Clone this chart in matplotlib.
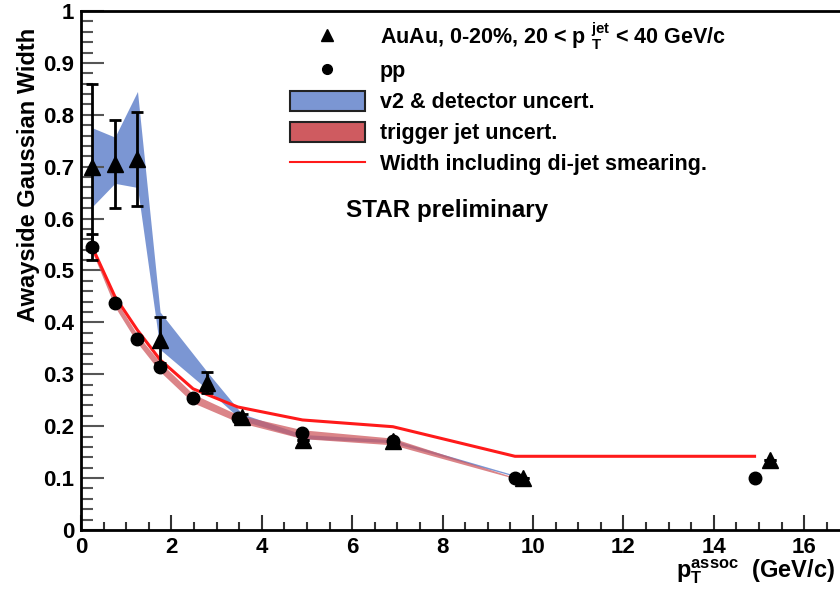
import numpy as np
import matplotlib.pyplot as plt
from matplotlib.lines import Line2D
from matplotlib.patches import Patch
from matplotlib.ticker import MultipleLocator

plt.rcParams['font.family'] = ['Liberation Sans', 'DejaVu Sans']
plt.rcParams['mathtext.fontset'] = 'custom'
plt.rcParams['mathtext.rm'] = 'Liberation Sans:bold'
plt.rcParams['mathtext.it'] = 'Liberation Sans:bold'
plt.rcParams['mathtext.bf'] = 'Liberation Sans:bold'

# ==================== data ====================
# AuAu, 0-20%, 20 < pT(jet) < 40 GeV/c
pt_auau = [0.25, 0.75, 1.25, 1.75, 2.78, 3.56, 4.91, 6.9, 9.78, 15.24]
w_auau = [0.700, 0.705, 0.715, 0.366, 0.284, 0.217, 0.173, 0.171, 0.100, 0.135]
err_auau = [0.160, 0.085, 0.090, 0.045, 0.020, 0.006, 0.0, 0.0, 0.0, 0.0]

# pp
pt_pp = [0.25, 0.75, 1.25, 1.75, 2.48, 3.47, 4.90, 6.90, 9.60, 14.90]
w_pp = [0.545, 0.437, 0.368, 0.315, 0.254, 0.215, 0.187, 0.172, 0.100, 0.100]
err_pp = [0.025, 0.0, 0.0, 0.0, 0.0, 0.0, 0.0, 0.0, 0.0, 0.0]

# v2 & detector uncertainty band (AuAu)
band_v2_x = [0.25, 0.75, 1.25, 1.75, 2.78, 3.56, 4.91, 6.90, 9.78]
band_v2_lo = [0.623, 0.668, 0.660, 0.348, 0.272, 0.211, 0.176, 0.168, 0.099]
band_v2_hi = [0.775, 0.757, 0.845, 0.420, 0.306, 0.224, 0.184, 0.174, 0.101]

# trigger jet uncertainty band (pp)
band_jet_x = [0.25, 0.75, 1.25, 1.75, 2.48, 3.47, 4.90, 6.90, 9.60]
band_jet_lo = [0.536, 0.430, 0.360, 0.305, 0.245, 0.208, 0.176, 0.164, 0.099]
band_jet_hi = [0.550, 0.446, 0.376, 0.323, 0.262, 0.222, 0.193, 0.177, 0.101]

# width including di-jet smearing
smear_x = [0.25, 0.75, 1.25, 1.75, 2.48, 3.47, 4.90, 6.90, 9.60, 14.90]
smear_w = [0.545, 0.450, 0.385, 0.328, 0.272, 0.237, 0.212, 0.199, 0.142, 0.142]

blue = '#7b96d3'
red = '#cf5b60'

# ==================== plot ====================
fig = plt.figure(figsize=(8.4, 5.89), dpi=100)
ax = fig.add_axes([0.0964, 0.1002, 0.9036, 0.8811])

ax.fill_between(band_v2_x, band_v2_lo, band_v2_hi, color=blue, lw=0, zorder=1)
ax.fill_between(band_jet_x, band_jet_lo, band_jet_hi, color=red, alpha=0.75, lw=0, zorder=2)
ax.plot(smear_x, smear_w, color='#ff1a1a', lw=2.2, zorder=3)

ax.errorbar(pt_auau, w_auau, yerr=err_auau, fmt='^', color='black', ms=12,
            elinewidth=2, capsize=4, capthick=2, zorder=5)
ax.errorbar(pt_pp, w_pp, yerr=err_pp, fmt='o', color='black', ms=9,
            elinewidth=2, capsize=4, capthick=2, zorder=5)

ax.set_xlim(0, 16.79)
ax.set_ylim(0, 1)
ax.xaxis.set_major_locator(MultipleLocator(2))
ax.xaxis.set_minor_locator(MultipleLocator(0.5))
ax.yaxis.set_minor_locator(MultipleLocator(0.02))
ax.set_yticks(np.arange(0, 1.01, 0.1))
ax.set_yticklabels(['0', '0.1', '0.2', '0.3', '0.4', '0.5', '0.6', '0.7', '0.8', '0.9', '1'])

ax.tick_params(axis='y', which='major', direction='in', length=16.5, width=1.5,
               color='#555555', labelsize=16, pad=5)
ax.tick_params(axis='y', which='minor', direction='in', length=8.5, width=1.5,
               color='#555555')
ax.tick_params(axis='x', which='major', direction='in', length=10.5, width=1.5,
               color='#333333', labelsize=16, pad=5)
ax.tick_params(axis='x', which='minor', direction='in', length=5.5, width=1.5,
               color='#333333')
for lab in ax.get_xticklabels() + ax.get_yticklabels():
    lab.set_fontweight('bold')

ax.spines['right'].set_visible(False)
for s in ['left', 'bottom', 'top']:
    ax.spines[s].set_linewidth(2)

ax.set_ylabel('Awayside Gaussian Width', fontsize=17, fontweight='bold', loc='top')
ax.yaxis.set_label_coords(-0.054, 0.967)
ax.set_xlabel(r'p$_{\rm T}^{\rm assoc}$  (GeV/c)', fontsize=17, fontweight='bold',
              loc='right')
ax.xaxis.set_label_coords(0.993, -0.052)

handles = [
    Line2D([], [], marker='^', color='black', ls='none', ms=9),
    Line2D([], [], marker='o', color='black', ls='none', ms=7),
    Patch(facecolor=blue, edgecolor='#222222', lw=1.5),
    Patch(facecolor=red, edgecolor='#222222', lw=1.5),
    Line2D([], [], color='#ff1a1a', lw=1.5),
]
labels = [
    r'AuAu, 0-20%, 20 < p $_{\rm T}^{\rm jet}$ < 40 GeV/c',
    'pp',
    'v2 & detector uncert.',
    'trigger jet uncert.',
    'Width including di-jet smearing.',
]
leg = ax.legend(handles, labels, loc='upper left', bbox_to_anchor=(0.2635, 1.0),
                frameon=False, prop={'size': 15.5, 'weight': 'bold'},
                handlelength=3.5, handleheight=1.05,
                handletextpad=0.7, labelspacing=0.4, borderaxespad=0)

ax.text(0.349, 0.615, 'STAR preliminary', transform=ax.transAxes, fontsize=17.5,
        fontweight='bold', ha='left', va='center')

fig.savefig('out.png', dpi=100)
